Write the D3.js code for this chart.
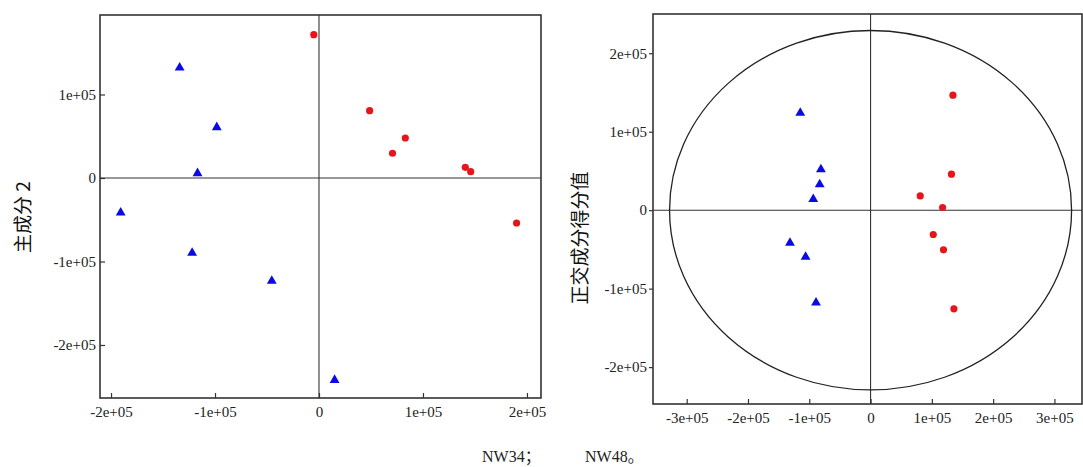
<!DOCTYPE html>
<html>
<head>
<meta charset="utf-8">
<script src="https://cdn.jsdelivr.net/npm/d3@7"></script>
<style>
  html, body { margin: 0; padding: 0; background: #fff; }
  svg { display: block; }
</style>
</head>
<body>
<svg id="chart" width="1083" height="467"></svg>
<script>
// ---- data ----
// left: PCA scores, PC1 vs PC2
const pcaRed = [[-5000, 171600], [48700, 80600], [83000, 47900], [70700, 29600], [140700, 12800], [145900, 7500], [190000, -53900]];
const pcaBlue = [[-134000, 132000], [-98300, 60700], [-116800, 5600], [-190700, -41500], [-122000, -89800], [-45400, -123300], [15000, -242000]];
// right: OPLS-DA scores, predictive vs orthogonal
const oplsRed = [[134400, 146500], [132000, 45900], [81000, 18200], [117500, 3400], [102300, -31000], [119000, -50500], [136000, -125700]];
const oplsBlue = [[-114700, 124000], [-81000, 51800], [-83000, 32700], [-93500, 14000], [-131500, -41600], [-106000, -59500], [-89000, -118000]];
const ellipseR = [328000, 229000];

const pcaXTicks = [-200000, -100000, 0, 100000, 200000];
const pcaYTicks = [100000, 0, -100000, -200000];
const oplsXTicks = [-300000, -200000, -100000, 0, 100000, 200000, 300000];
const oplsYTicks = [200000, 100000, 0, -100000, -200000];

const pcaLabel = "主成分 2";
const oplsLabel = "正交成分得分值";
const captionA = "NW34；";
const captionB = "NW48。";

const RED = "#e8141b", BLUE = "#0a0ae6", LINE = "#333";

const svg = d3.select("#chart");

function fmt(v) {
  if (v === 0) return "0";
  const m = v / 1e5;
  return m + "e+05";
}

function panel(opt) {
  const x = d3.scaleLinear().domain(opt.xDom).range([opt.left, opt.right]);
  const y = d3.scaleLinear().domain(opt.yDom).range([opt.bottom, opt.top]);
  const g = svg.append("g");

  // zero lines
  g.append("line").attr("x1", opt.left).attr("x2", opt.right)
    .attr("y1", y(0)).attr("y2", y(0)).attr("stroke", LINE).attr("stroke-width", 1.1);
  g.append("line").attr("x1", x(0)).attr("x2", x(0))
    .attr("y1", opt.top).attr("y2", opt.bottom).attr("stroke", LINE).attr("stroke-width", 1.1);

  if (opt.ellipse) {
    g.append("ellipse")
      .attr("cx", x(0)).attr("cy", y(0))
      .attr("rx", x(opt.ellipse[0]) - x(0))
      .attr("ry", y(0) - y(opt.ellipse[1]))
      .attr("fill", "none").attr("stroke", "#222").attr("stroke-width", 1.3);
  }

  // axes
  const xAxis = d3.axisBottom(x).tickValues(opt.xTicks).tickFormat(fmt)
    .tickSizeInner(-5).tickSizeOuter(0).tickPadding(8);
  const yAxis = d3.axisLeft(y).tickValues(opt.yTicks).tickFormat(fmt)
    .tickSizeInner(opt.yTickIn ? -5 : 4).tickSizeOuter(0).tickPadding(opt.yTickIn ? 4 : 2);

  const gx = g.append("g").attr("transform", `translate(0,${opt.bottom})`).call(xAxis);
  const gy = g.append("g").attr("transform", `translate(${opt.left},0)`).call(yAxis);
  [gx, gy].forEach(a => {
    a.select(".domain").remove();
    a.selectAll(".tick line").attr("stroke", LINE).attr("stroke-width", 1.2);
    a.selectAll(".tick text")
      .attr("fill", "#222")
      .style("font-family", "'Liberation Serif', 'Times New Roman', serif")
      .style("font-size", "15px");
  });
  if (opt.yTickIn) gy.selectAll(".tick text").attr("x", -4);

  // frame
  g.append("rect").attr("x", opt.left).attr("y", opt.top)
    .attr("width", opt.right - opt.left).attr("height", opt.bottom - opt.top)
    .attr("fill", "none").attr("stroke", LINE).attr("stroke-width", 1.6);

  // points
  g.append("g").selectAll("circle").data(opt.red).join("circle")
    .attr("cx", d => x(d[0])).attr("cy", d => y(d[1])).attr("r", 3.6).attr("fill", RED);
  const tri = d3.symbol().type(d3.symbolTriangle).size(42);
  g.append("g").selectAll("path").data(opt.blue).join("path")
    .attr("d", tri).attr("transform", d => `translate(${x(d[0])},${y(d[1])})`).attr("fill", BLUE);

  // y title
  g.append("text")
    .attr("transform", `translate(${opt.labelX},${opt.labelY}) rotate(-90)`)
    .attr("text-anchor", "middle").attr("dominant-baseline", "central")
    .style("font-family", "'Noto Sans CJK SC', sans-serif")
    .style("font-size", "19px").attr("fill", "#111")
    .text(opt.label);
}

panel({
  left: 100, right: 541, top: 15, bottom: 398,
  xDom: [-210600, 213500], yDom: [-263500, 195200],
  xTicks: pcaXTicks, yTicks: pcaYTicks, yTickIn: true,
  red: pcaRed, blue: pcaBlue, label: pcaLabel, labelX: 21, labelY: 217
});

panel({
  left: 653, right: 1082, top: 14, bottom: 404,
  xDom: [-355000, 345000], yDom: [-247000, 250000],
  xTicks: oplsXTicks, yTicks: oplsYTicks, yTickIn: false,
  red: oplsRed, blue: oplsBlue, ellipse: ellipseR,
  label: oplsLabel, labelX: 578, labelY: 238
});

// caption
const cap = svg.append("g")
  .style("font-family", "'Liberation Serif', 'Noto Sans CJK SC', serif")
  .style("font-size", "16px").attr("fill", "#222");
cap.append("text").attr("x", 482).attr("y", 462).text(captionA);
cap.append("text").attr("x", 585).attr("y", 462).text(captionB);
</script>
</body>
</html>
